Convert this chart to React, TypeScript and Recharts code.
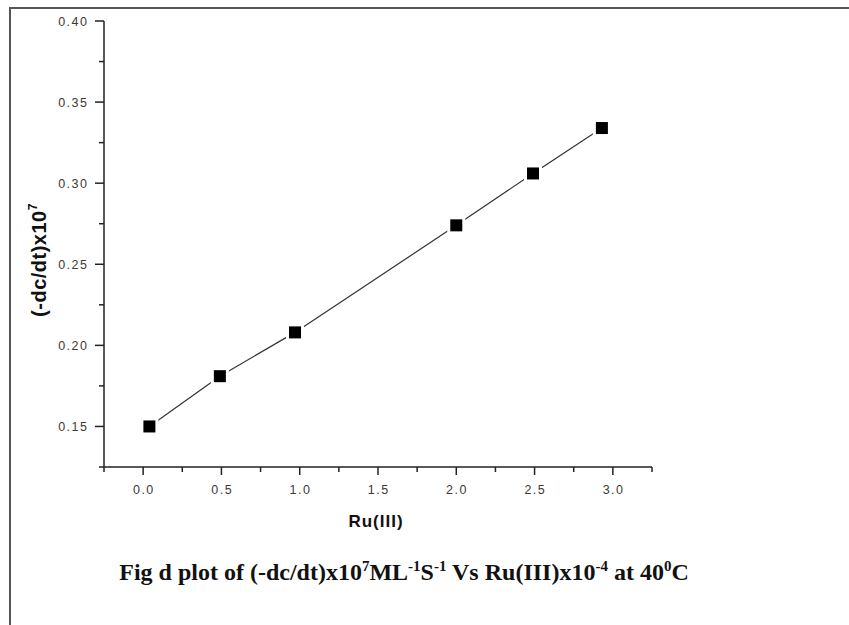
import React from "react";
import { LineChart, Line, XAxis, YAxis } from "recharts";

// Data
const ruConc = [0.04, 0.49, 0.97, 2.0, 2.49, 2.93];
const rateValues = [0.15, 0.181, 0.208, 0.274, 0.306, 0.334];

// Axis ticks (major + minor)
const xTicks = [-0.25, 0, 0.25, 0.5, 0.75, 1.0, 1.25, 1.5, 1.75, 2.0, 2.25, 2.5, 2.75, 3.0, 3.25];
const xMajorLabels = ["0.0", "0.5", "1.0", "1.5", "2.0", "2.5", "3.0"];
const yTicks = [0.125, 0.15, 0.175, 0.2, 0.225, 0.25, 0.275, 0.3, 0.325, 0.35, 0.375, 0.4];
const yMajorLabels = ["0.15", "0.20", "0.25", "0.30", "0.35", "0.40"];

const data = ruConc.map((x, i) => ({ ru: x, rate: rateValues[i] }));

const AXIS_COLOR = "#222";
const LABEL_COLOR = "#3d3a36";
const SANS = "'Liberation Sans', Arial, sans-serif";

const XTick = (props: any) => {
  const { x, y, payload } = props;
  const label = Number(payload.value).toFixed(1);
  const major = xMajorLabels.includes(label) && Math.abs(payload.value * 2 - Math.round(payload.value * 2)) < 1e-6;
  return (
    <g>
      <line x1={x} x2={x} y1={y} y2={y + (major ? 8 : 5)} stroke={AXIS_COLOR} strokeWidth={1.5} />
      {major && (
        <text x={x + 0.75} y={y + 27} textAnchor="middle" fontFamily={SANS} fontSize={12.5} letterSpacing={1.5} fill={LABEL_COLOR}>
          {label}
        </text>
      )}
    </g>
  );
};

const YTick = (props: any) => {
  const { x, y, payload } = props;
  const label = Number(payload.value).toFixed(2);
  const v = payload.value;
  const major = yMajorLabels.includes(label) && Math.abs(v * 20 - Math.round(v * 20)) < 1e-6;
  return (
    <g>
      <line x1={x} x2={x - (major ? 9 : 5)} y1={y} y2={y} stroke={AXIS_COLOR} strokeWidth={1.5} />
      {major && (
        <text x={x - 15.5} y={y + 4.5} textAnchor="end" fontFamily={SANS} fontSize={12.5} letterSpacing={1.5} fill={LABEL_COLOR}>
          {label}
        </text>
      )}
    </g>
  );
};

const SquareDot = (props: any) => {
  const { cx, cy, index } = props;
  if (cx == null || cy == null) return null;
  return (
    <g key={`dot-${index}`}>
      <rect x={cx - 9} y={cy - 9} width={18} height={18} fill="#fff" />
      <rect x={cx - 6} y={cy - 6} width={12} height={12} fill="#000" />
    </g>
  );
};

const XTitle = (props: any) => {
  const { viewBox } = props;
  const cx = viewBox.x + viewBox.width / 2 - 2;
  return (
    <text x={cx} y={viewBox.y + 60} textAnchor="middle" fontFamily={SANS} fontWeight="bold" fontSize={17} letterSpacing={1} fill="#111">
      Ru(III)
    </text>
  );
};

const YTitle = (props: any) => {
  const { viewBox } = props;
  const cx = 46;
  const cy = viewBox.y + viewBox.height / 2 + 16;
  return (
    <text
      x={cx}
      y={cy}
      transform={`rotate(-90, ${cx}, ${cy})`}
      textAnchor="middle"
      fontFamily={SANS}
      fontWeight="bold"
      fontSize={20}
      letterSpacing={0.5}
      fill="#111"
    >
      (-dc/dt)x10
      <tspan dy={-9} fontSize={12}>7</tspan>
    </text>
  );
};

export default function App() {
  return (
    <div style={{ position: "absolute", left: 0, top: 0, width: 849, height: 625, background: "#fff", overflow: "hidden" }}>
      {/* frame */}
      <div style={{ position: "absolute", left: 9, top: 7, width: 840, height: 2, background: "#555" }} />
      <div style={{ position: "absolute", left: 9, top: 7, width: 2, height: 618, background: "#555" }} />
      <div style={{ position: "absolute", left: 0, top: 0 }}>
        <LineChart width={849} height={625} data={data} margin={{ top: 21, right: 197, bottom: 128, left: 44 }}>
          <XAxis
            dataKey="ru"
            type="number"
            domain={[-0.25, 3.25]}
            ticks={xTicks}
            interval={0}
            tickSize={0}
            tickMargin={0}
            tickLine={false}
            tick={<XTick />}
            axisLine={{ stroke: AXIS_COLOR, strokeWidth: 1.5 }}
            height={30}
            allowDataOverflow
            label={<XTitle />}
          />
          <YAxis
            dataKey="rate"
            type="number"
            domain={[0.125, 0.4]}
            ticks={yTicks}
            interval={0}
            tickSize={0}
            tickMargin={0}
            tickLine={false}
            tick={<YTick />}
            axisLine={{ stroke: AXIS_COLOR, strokeWidth: 1.5 }}
            width={60}
            allowDataOverflow
            label={<YTitle />}
          />
          <Line
            dataKey="rate"
            stroke="#333"
            strokeWidth={1.2}
            dot={<SquareDot />}
            activeDot={false}
            isAnimationActive={false}
          />
        </LineChart>
      </div>
      <svg width={849} height={625} style={{ position: "absolute", left: 0, top: 0, pointerEvents: "none" }}>
        <text x={404} y={580} textAnchor="middle" fontFamily="'Liberation Serif', 'Times New Roman', serif" fontWeight="bold" fontSize={24} fill="#111">
          Fig d plot of (-dc/dt)x10
          <tspan dy={-9} fontSize={15}>7</tspan>
          <tspan dy={9}>ML</tspan>
          <tspan dy={-9} fontSize={15}>-1</tspan>
          <tspan dy={9}>S</tspan>
          <tspan dy={-9} fontSize={15}>-1</tspan>
          <tspan dy={9}> Vs Ru(III)x10</tspan>
          <tspan dy={-9} fontSize={15}>-4</tspan>
          <tspan dy={9}> at 40</tspan>
          <tspan dy={-9} fontSize={15}>0</tspan>
          <tspan dy={9}>C</tspan>
        </text>
      </svg>
    </div>
  );
}
